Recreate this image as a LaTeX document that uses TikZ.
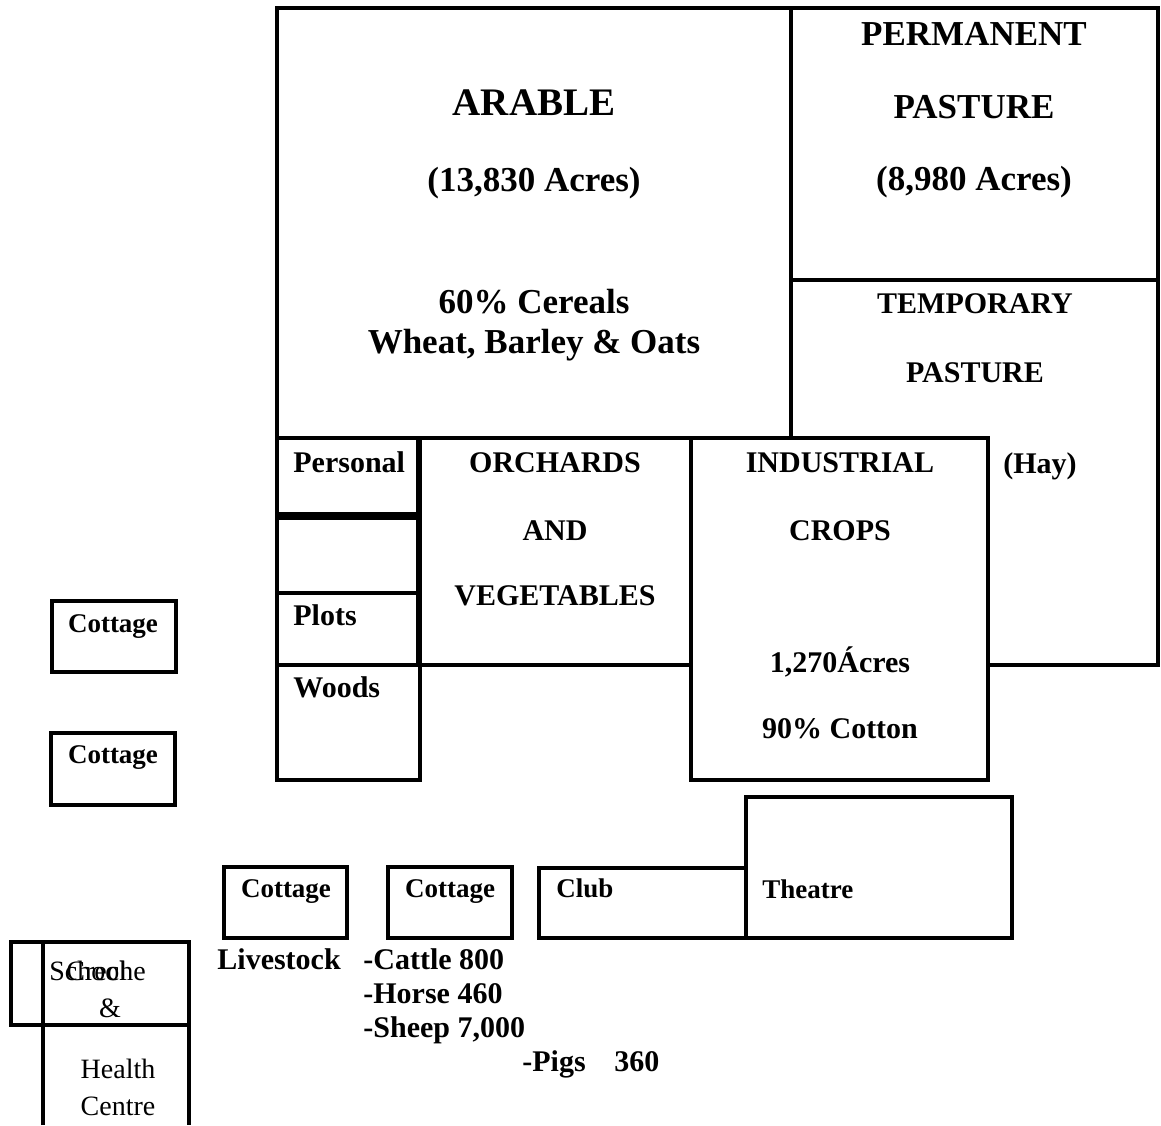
\documentclass[tikz,border=0pt]{standalone}
\usepackage{fontspec}
\setmainfont{Liberation Serif}
\usetikzlibrary{positioning}

\tikzset{
  field/.style={draw, line width=2pt},
  hugetxt/.style={font=\fontsize{19.5}{23}\selectfont\bfseries, inner sep=0pt, anchor=base},
  bigtxt/.style={font=\fontsize{17.5}{21}\selectfont\bfseries, inner sep=0pt, anchor=base},
  midtxt/.style={font=\fontsize{15}{18}\selectfont\bfseries, inner sep=0pt, anchor=base},
  smalltxt/.style={font=\fontsize{13.5}{16}\selectfont\bfseries, inner sep=0pt, anchor=base},
  plaintxt/.style={font=\fontsize{14}{17}\selectfont, inner sep=0pt, anchor=base},
}

\begin{document}
\begin{tikzpicture}[x=0.5pt,y=-0.5pt]
\useasboundingbox (0,0) rectangle (1161,1125);
% farm land
\draw[field] (277,8) rectangle (791,438);
\draw[field] (791,8) rectangle (1158,280);
\draw[field] (791,280) -- (1158,280) -- (1158,665) -- (988,665);
\draw[field] (691,438) rectangle (988,780);
\draw[field] (420,438) rectangle (691,665);
\draw[field] (277,438) rectangle (418,514);
\draw[field] (277,518) rectangle (418,593);
\draw[field] (277,593) rectangle (418,665);
\draw[field] (277,665) rectangle (420,780);
% village buildings
\draw[field] (52,601) rectangle (176,672);
\draw[field] (51,733) rectangle (175,805);
\draw[field] (224,867) rectangle (347,938);
\draw[field] (388,867) rectangle (512,938);
\draw[field] (539,868) rectangle (746,938);
\draw[field] (746,797) rectangle (1012,938);
\draw[field] (11,942) rectangle (189,1025);
\draw[field] (43,1125) -- (43,942) -- (189,942) -- (189,1125);

\node[hugetxt] (arable) at (534,115) {ARABLE};
\node[bigtxt] (arableac) at (534,191) {(13,830 Acres)};
\node[bigtxt] (cereals) at (534,313) {60\% Cereals};
\node[bigtxt] (grains) at (534,353) {Wheat, Barley \& Oats};
\node[bigtxt] (perm) at (974,45) {PERMANENT};
\node[bigtxt] (permpast) at (974,118) {PASTURE};
\node[bigtxt] (permac) at (974,190) {(8,980 Acres)};
\node[midtxt] (temp) at (975,313) {TEMPORARY};
\node[midtxt] (temppast) at (975,382) {PASTURE};
\node[midtxt, anchor=base west] (hay) at (1003,473) {(Hay)};
\node[midtxt, anchor=base west] (personal) at (293,472) {Personal};
\node[midtxt, anchor=base west] (plots) at (293,625) {Plots};
\node[midtxt, anchor=base west] (woods) at (293,697) {Woods};
\node[midtxt] (orch) at (555,472) {ORCHARDS};
\node[midtxt] (orchand) at (555,540) {AND};
\node[midtxt] (veg) at (555,605) {VEGETABLES};
\node[midtxt] (ind) at (840,472) {INDUSTRIAL};
\node[midtxt] (crops) at (840,540) {CROPS};
\node[midtxt] (indac) at (840,672) {1,270Ácres};
\node[midtxt] (cotton) at (840,738) {90\% Cotton};

\node[smalltxt] (cotA) at (113,632) {Cottage};
\node[smalltxt] (cotB) at (113,763) {Cottage};
\node[smalltxt] (cotC) at (286,897) {Cottage};
\node[smalltxt] (cotD) at (450,897) {Cottage};
\node[smalltxt, anchor=base west] (club) at (556,897) {Club};
\node[smalltxt, anchor=base west] (theatre) at (762,898) {Theatre};
\node[plaintxt, anchor=base west] (school) at (49,980) {School};
\node[plaintxt, anchor=base west] (creche) at (66,980) {Creche};
\node[plaintxt] (amp) at (110,1017) {\&};
\node[plaintxt] (health) at (118,1078) {Health};
\node[plaintxt] (centre) at (118,1115) {Centre};

\node[midtxt, anchor=base west] (stock) at (217,969) {Livestock};
\node[midtxt, anchor=base west] (cattle) at (363,969) {-Cattle 800};
\node[midtxt, anchor=base west] (horse) at (363,1003) {-Horse 460};
\node[midtxt, anchor=base west] (sheep) at (363,1037) {-Sheep 7,000};
\node[midtxt, anchor=base west] (pigs) at (522,1071) {-Pigs};
\node[midtxt, anchor=base west] (pignum) at (614,1071) {360};
\end{tikzpicture}
\end{document}
